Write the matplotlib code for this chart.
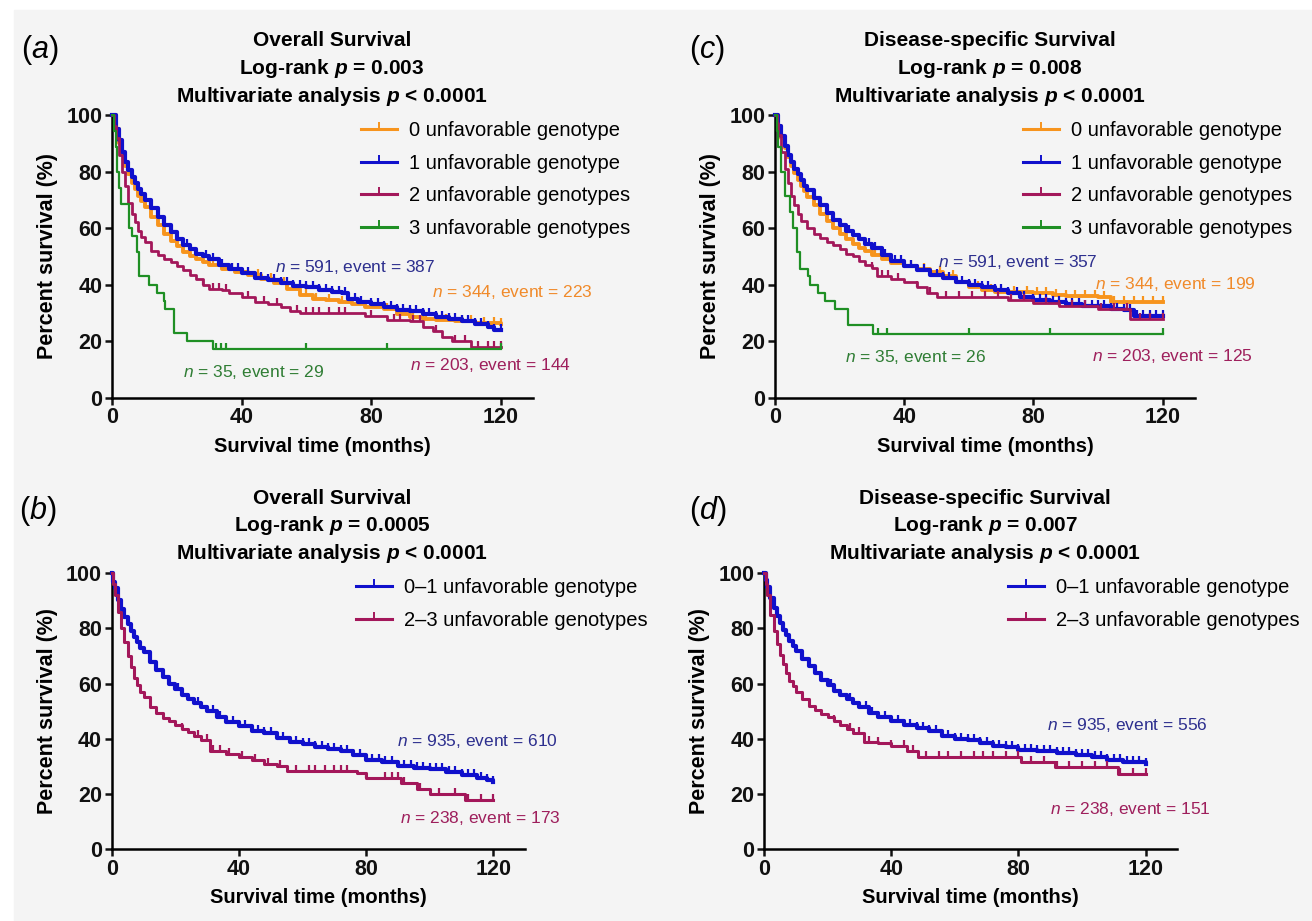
import numpy as np
import matplotlib
matplotlib.use('Agg')
import matplotlib.pyplot as plt
from matplotlib.path import Path
from matplotlib.patches import Rectangle

plt.rcParams['font.family'] = ['Liberation Sans', 'DejaVu Sans']
plt.rcParams['mathtext.fontset'] = 'custom'
plt.rcParams['mathtext.rm'] = 'Liberation Sans'
plt.rcParams['mathtext.it'] = 'Liberation Sans:italic'
plt.rcParams['mathtext.bf'] = 'Liberation Sans:bold'
plt.rcParams['mathtext.bfit'] = 'Liberation Sans:italic:bold'

W, H = 1312, 921

# ---- (a) overall survival, 0/1/2/3 unfavorable genotypes ----
A0_T = [0, 1, 2, 3, 4, 5, 6, 7, 8, 9, 10, 12, 14, 16, 18, 20, 22, 24, 26, 28, 30, 34, 38, 42, 46, 50,
        54, 58, 62, 66, 70, 74, 78, 84, 88, 92, 96, 100, 106, 112, 120]
A0_S = [100, 95, 90, 86, 82, 79, 76, 74, 71.5, 69.5, 67.5, 64, 61, 58, 55.5, 53.5, 51.5, 50, 49, 48, 47,
        45.5, 44.5, 43.5, 42, 40.5, 38.5, 36.5, 35, 34.5, 34, 33, 32, 31.5, 29.5, 28.5, 28, 27.5, 27, 26.5, 26]
A0_C = [31, 37, 45, 49, 53, 60, 63, 67, 71, 76, 85, 89, 93, 97, 103, 108, 111, 115, 118, 120]

A1_T = [0, 1, 2, 3, 4, 5, 6, 7, 8, 9, 10, 12, 14, 16, 18, 20, 22, 24, 26, 28, 30, 33, 36, 40, 44, 48,
        52, 56, 60, 64, 68, 71, 73, 76, 80, 84, 88, 92, 96, 100, 104, 108, 112, 116, 118, 120]
A1_S = [100, 95, 91, 87, 83.5, 80.5, 78, 76, 74, 72, 70, 67, 64, 61, 58.5, 56, 54, 52.5, 51, 50, 49, 47,
        45.5, 44, 42.5, 41.5, 40.5, 39.5, 39, 38, 37.5, 37, 35, 34, 33, 32, 31, 30.5, 29.5, 28.5, 28, 27,
        26, 25, 24, 24]
A1_C = [20, 23, 26, 29, 31, 34, 37, 39, 42, 44, 46, 48, 50, 52, 54, 56, 58, 60, 62, 64, 66, 68, 70, 72,
        75, 77, 80, 82, 84, 86, 88, 90, 92, 94, 96, 98, 100, 102, 104, 106, 108, 110, 112, 114, 116, 118, 120]

A2_T = [0, 0.5, 1, 2, 3, 4, 5, 6, 7, 8, 9, 10, 12, 14, 16, 18, 20, 22, 24, 26, 28, 30, 34, 36, 40, 44,
        48, 52, 55, 58, 78, 85, 92, 96, 99, 102, 105, 111, 120]
A2_S = [100, 96, 92, 86, 80, 75, 69, 65, 62, 59, 57, 55, 52, 50.5, 49, 48, 46.5, 45, 43.5, 42, 40, 38.5,
        38, 37, 35.5, 34, 33, 32, 30.5, 30, 29, 27.5, 27, 25, 23.5, 21.5, 20, 18, 18]
A2_C = [28, 31, 33, 35, 42, 47, 51, 57, 60, 62, 64, 67, 70, 72, 80, 87, 89, 93, 95, 100, 106, 109, 113,
        116, 118, 120]

A3_T = [0, 0.5, 1, 1.5, 2, 2.7, 5.1, 6.1, 7.6, 8.1, 11.2, 13.8, 15.9, 16.4, 19.0, 23.2, 31.0, 120]
A3_S = [100, 94.3, 88.6, 80, 74.3, 68.6, 60, 57.1, 51.4, 42.9, 40, 37.1, 34.3, 31.4, 22.9, 20, 17.1, 17.1]
A3_C = [32, 33.5, 35, 60, 85, 120]

# ---- (c) disease-specific survival, 0/1/2/3 unfavorable genotypes ----
C0_T = [0, 1, 2, 3, 4, 5, 6, 7, 8, 9, 10, 12, 14, 16, 18, 20, 22, 24, 26, 28, 30, 33, 36, 40, 44, 48,
        52, 56, 60, 64, 68, 72, 80, 86, 90, 100, 104, 120]
C0_S = [100, 96, 92, 88.5, 85, 82, 79.5, 77, 75, 73, 71, 68, 65, 62.5, 60, 58, 56, 54.5, 53, 52, 50.5,
        49, 47.5, 46.5, 45.5, 44.5, 43, 41, 39, 38, 37.5, 37.5, 37, 36.5, 36, 35.5, 34, 34]
C0_C = [31, 35, 42, 46, 51, 55, 63, 67, 70, 74, 78, 81, 84, 87, 90, 93, 96, 99, 102, 105, 108, 111, 114,
        117, 120]

C1_T = [0, 1, 2, 3, 4, 5, 6, 7, 8, 9, 10, 12, 14, 16, 18, 20, 22, 24, 26, 28, 30, 33, 36, 40, 44, 48,
        52, 56, 60, 64, 68, 72, 76, 80, 85, 90, 95, 100, 104, 108, 111, 120]
C1_S = [100, 96, 92.5, 89, 86, 83.5, 81, 79, 77, 75, 73.5, 70.5, 68, 65.5, 63, 61, 59, 57.5, 56, 54.5,
        53, 50.5, 48.5, 46.5, 45, 43.5, 42.5, 41, 40, 39, 38, 37, 35.5, 34.5, 34, 33, 32.5, 32.5, 31.5, 31,
        29, 29]
C1_C = [20, 23, 26, 29, 31, 34, 37, 39, 42, 44, 46, 48, 50, 52, 54, 56, 58, 60, 62, 64, 66, 68, 70, 72,
        75, 77, 80, 82, 84, 86, 88, 90, 92, 94, 96, 98, 100, 102, 104, 106, 108, 110, 112, 114, 116, 118, 120]

C2_T = [0, 0.5, 1, 2, 3, 4, 5, 6, 7, 8, 10, 12, 14, 16, 18, 20, 22, 24, 26, 28, 30, 31.5, 36, 40, 44, 47,
        50, 72, 80, 88, 100, 110, 120]
C2_S = [100, 97, 93, 87, 81, 76, 71.5, 68, 65, 62.5, 60, 58, 56.5, 55, 54, 52.5, 51, 50, 48.5, 47, 46, 43,
        42, 41, 39, 37, 35.5, 34.5, 33.5, 32.5, 31.5, 28, 28]
C2_C = [30, 33, 35, 38, 44, 48, 53, 57, 61, 65, 69, 73, 77, 84, 88, 92, 96, 101, 105, 109, 113, 116, 120]

C3_T = [0, 0.5, 1, 2, 3.1, 4.6, 5.7, 6.7, 7.7, 10.3, 10.8, 13.4, 15.5, 18.6, 22.7, 30.4, 120]
C3_S = [100, 94.3, 88.6, 80, 71.4, 65.7, 60, 51.4, 45.7, 42.9, 40, 37.1, 34.3, 31.4, 25.7, 22.4, 22.4]
C3_C = [32, 34.6, 60, 85, 120]

# ---- (b) overall survival, 0-1 vs 2-3 ----
B0_T = [0, 0.5, 1, 2, 3, 4, 5, 6, 7, 8, 9, 10, 12, 14, 16, 18, 20, 22, 24, 26, 28, 30, 33, 36, 40, 44,
        48, 52, 56, 60, 64, 68, 72, 76, 80, 85, 90, 95, 100, 105, 110, 115, 118, 120]
B0_S = [100, 97, 94.5, 90.5, 87, 84, 81.5, 79, 77, 75, 73, 71.5, 68, 65, 62.5, 60, 58, 56, 54.5, 53, 51.5,
        50, 48, 46, 44.5, 43, 42, 40.5, 39, 38, 37, 36.5, 35.5, 34, 32.5, 31.5, 30, 29.5, 29, 28, 27, 26,
        25, 24.5]
B0_C = [18, 21, 24, 27, 30, 32, 34, 36, 38, 40, 42, 44, 46, 48, 50, 52, 54, 56, 58, 60, 62, 64, 66, 68,
        70, 72, 74, 76, 78, 80, 82, 84, 86, 88, 90, 92, 94, 96, 98, 100, 102, 104, 106, 108, 110, 112, 114,
        116, 118, 120]

B1_T = [0, 0.5, 1, 2, 3, 4, 5, 6, 7, 8, 9, 10, 12, 14, 16, 18, 20, 22, 24, 26, 28, 31, 36, 40, 44, 48,
        52, 55, 77, 80, 91, 96, 100, 111, 120]
B1_S = [100, 96, 92, 86, 80, 75, 70, 66, 62, 59.5, 57, 55, 51.5, 49.5, 47.5, 46.5, 45, 43.5, 42.5, 41,
        39.5, 35.5, 34.5, 33.5, 32.5, 31, 30, 28.5, 27.5, 26, 24, 22, 20, 18, 18]
B1_C = [22, 27, 30, 32, 34, 37, 41, 45, 49, 53, 58, 62, 64, 67, 70, 72, 74, 80, 86, 88, 90, 92, 97, 103,
        108, 112, 116, 120]

# ---- (d) disease-specific survival, 0-1 vs 2-3 ----
D0_T = [0, 0.5, 1, 2, 3, 4, 5, 6, 7, 8, 9, 10, 12, 14, 16, 18, 20, 22, 24, 26, 28, 30, 33, 36, 40, 44,
        48, 52, 56, 60, 64, 68, 72, 76, 80, 86, 92, 98, 103, 108, 113, 120]
D0_S = [100, 97.5, 95, 91, 87.5, 84.5, 82, 79.5, 77.5, 75.5, 73.5, 72, 69, 66.5, 64, 61.5, 59.5, 57.5,
        56, 54.5, 53, 51.5, 49.5, 48, 46.5, 45, 44, 43, 41, 40, 39.5, 38.5, 37.5, 37, 36, 35.5, 35, 34,
        33.5, 32.5, 31.5, 31]
D0_C = [18, 21, 24, 27, 30, 32, 34, 36, 38, 40, 42, 44, 46, 48, 50, 52, 54, 56, 58, 60, 62, 64, 66, 68,
        70, 72, 74, 76, 78, 80, 82, 84, 86, 88, 90, 92, 94, 96, 98, 100, 102, 104, 106, 108, 110, 112, 114,
        116, 118, 120]

D1_T = [0, 0.5, 1, 2, 3, 4, 5, 6, 7, 8, 9, 10, 12, 14, 16, 18, 20, 22, 24, 26, 28, 31.5, 36, 40, 45,
        48.4, 80.9, 91.4, 111.3, 120]
D1_S = [100, 96, 92, 85, 79, 74.5, 70.5, 67, 64, 61, 59, 57, 54.5, 52, 50.5, 49, 48, 46.5, 45, 43.5, 42,
        39, 38.5, 37.5, 35.5, 33.5, 31.7, 29.9, 27.2, 27.2]
D1_C = [22, 27, 30, 33, 36, 40, 44, 47, 51, 55, 58, 62, 66, 69, 72, 76, 80, 84, 88, 92, 96, 100, 104,
        108, 112, 116, 120]

LABELS4 = ['0 unfavorable genotype', '1 unfavorable genotype', '2 unfavorable genotypes',
           '3 unfavorable genotypes']
LABELS2 = ['0\u20131 unfavorable genotype', '2\u20133 unfavorable genotypes']

ORANGE = '#f7941d'
BLUE = '#1010cc'
CRIMSON = '#a3175a'
GREEN = '#1f8f24'
T_ORANGE = '#f08a2a'
T_BLUE = '#2d2f8e'
T_CRIMSON = '#9e1f5c'
T_GREEN = '#2f7d34'

TICK = Path([(0, 0), (0, 1)], [Path.MOVETO, Path.LINETO])


def px(x, y):
    return x / W, 1 - y / H


def km(ax, t, s, cens, color, lw, label, z):
    t = np.asarray(t, float)
    s = np.asarray(s, float)
    cens = np.asarray(cens, float)
    ax.plot(t, s, drawstyle='steps-post', color=color, lw=lw, clip_on=False, zorder=z)
    idx = np.searchsorted(t, cens, side='right') - 1
    ax.plot(cens, s[idx], ls='none', marker=TICK, ms=9, mew=1.6, color=color, clip_on=False, zorder=z)
    ax.plot([], [], color=color, lw=2.2, marker=TICK, ms=10, mew=1.4, label=label)


def style(ax):
    ax.set_xlim(0, 130)
    ax.set_ylim(0, 100)
    ax.set_xticks([0, 40, 80, 120])
    ax.set_yticks(range(0, 101, 20))
    ax.set_facecolor('none')
    ax.spines[['top', 'right']].set_visible(False)
    ax.spines[['left', 'bottom']].set_linewidth(1.8)
    ax.tick_params(width=1.8, length=5, labelsize=15.5, pad=2, colors='#111111')
    for lab in ax.get_xticklabels() + ax.get_yticklabels():
        lab.set_fontweight('bold')
    ax.set_xlabel('Survival time (months)', fontsize=14.5, fontweight='bold', labelpad=6)
    ax.set_ylabel('Percent survival (%)', fontsize=15.5, fontweight='bold', labelpad=6)


def titles(fig, x, y0, head, logrank):
    lines = [head, r'Log-rank $\mathbfit{p}$ = ' + logrank, r'Multivariate analysis $\mathbfit{p}$ < 0.0001']
    for i, line in enumerate(lines):
        fig.text(*px(x, y0 + i * 27.5), line, ha='center', va='center', fontsize=15, fontweight='bold')


fig = plt.figure(figsize=(W / 100, H / 100), dpi=100, facecolor='white')
fig.add_artist(Rectangle(px(14, H), 1, 1 - 10 / H, transform=fig.transFigure, color='#f4f4f4', zorder=-10))

ax_a = fig.add_axes([112.3 / W, 1 - 397.7 / H, 420.6 / W, 282.7 / H])
ax_c = fig.add_axes([775 / W, 1 - 397.7 / H, 419.9 / W, 282.7 / H])
ax_b = fig.add_axes([111.7 / W, 1 - 849.3 / H, 413.4 / W, 276 / H])
ax_d = fig.add_axes([764 / W, 1 - 849.3 / H, 413.4 / W, 276 / H])

# (a)
km(ax_a, A0_T, A0_S, A0_C, ORANGE, 2.8, LABELS4[0], 3)
km(ax_a, A1_T, A1_S, A1_C, BLUE, 3.0, LABELS4[1], 4)
km(ax_a, A2_T, A2_S, A2_C, CRIMSON, 2.0, LABELS4[2], 5)
km(ax_a, A3_T, A3_S, A3_C, GREEN, 1.6, LABELS4[3], 6)
ax_a.text(50.3, 46.2, r'$\mathit{n}$ = 591, event = 387', color=T_BLUE, fontsize=12.5, va='center')
ax_a.text(98.9, 37.4, r'$\mathit{n}$ = 344, event = 223', color=T_ORANGE, fontsize=12.5, va='center')
ax_a.text(21.8, 9.1, r'$\mathit{n}$ = 35, event = 29', color=T_GREEN, fontsize=12.5, va='center')
ax_a.text(92.0, 11.7, r'$\mathit{n}$ = 203, event = 144', color=T_CRIMSON, fontsize=12.5, va='center')

# (c)
km(ax_c, C0_T, C0_S, C0_C, ORANGE, 2.8, LABELS4[0], 3)
km(ax_c, C1_T, C1_S, C1_C, BLUE, 3.0, LABELS4[1], 4)
km(ax_c, C2_T, C2_S, C2_C, CRIMSON, 2.0, LABELS4[2], 5)
km(ax_c, C3_T, C3_S, C3_C, GREEN, 1.6, LABELS4[3], 6)
ax_c.text(50.5, 48.0, r'$\mathit{n}$ = 591, event = 357', color=T_BLUE, fontsize=12.5, va='center')
ax_c.text(99.0, 40.2, r'$\mathit{n}$ = 344, event = 199', color=T_ORANGE, fontsize=12.5, va='center')
ax_c.text(21.7, 14.5, r'$\mathit{n}$ = 35, event = 26', color=T_GREEN, fontsize=12.5, va='center')
ax_c.text(98.1, 14.8, r'$\mathit{n}$ = 203, event = 125', color=T_CRIMSON, fontsize=12.5, va='center')

# (b)
km(ax_b, B0_T, B0_S, B0_C, BLUE, 3.0, LABELS2[0], 4)
km(ax_b, B1_T, B1_S, B1_C, CRIMSON, 2.2, LABELS2[1], 5)
ax_b.text(89.7, 39.2, r'$\mathit{n}$ = 935, event = 610', color=T_BLUE, fontsize=12.5, va='center')
ax_b.text(90.7, 11.2, r'$\mathit{n}$ = 238, event = 173', color=T_CRIMSON, fontsize=12.5, va='center')

# (d)
km(ax_d, D0_T, D0_S, D0_C, BLUE, 3.0, LABELS2[0], 4)
km(ax_d, D1_T, D1_S, D1_C, CRIMSON, 2.2, LABELS2[1], 5)
ax_d.text(89.0, 45.0, r'$\mathit{n}$ = 935, event = 556', color=T_BLUE, fontsize=12.5, va='center')
ax_d.text(90.0, 14.5, r'$\mathit{n}$ = 238, event = 151', color=T_CRIMSON, fontsize=12.5, va='center')

for ax in (ax_a, ax_b, ax_c, ax_d):
    style(ax)

legend_at = {ax_a: (361, 121), ax_c: (1023, 121), ax_b: (356, 578), ax_d: (1008, 578)}
for ax, (lx, ly) in legend_at.items():
    ax.legend(loc='upper left', bbox_to_anchor=px(lx, ly), bbox_transform=fig.transFigure,
              frameon=False, fontsize=14.5, handlelength=1.8, handletextpad=0.6, labelspacing=0.68,
              borderaxespad=0, borderpad=0, numpoints=1)

titles(fig, 332, 41, 'Overall Survival', '0.003')
titles(fig, 990, 41, 'Disease-specific Survival', '0.008')
titles(fig, 332, 498, 'Overall Survival', '0.0005')
titles(fig, 985, 498, 'Disease-specific Survival', '0.007')

for letter, (lx, ly) in zip('acbd', [(21, 50), (689, 50), (19, 511), (689, 511)]):
    fig.text(*px(lx, ly), '($\\mathit{' + letter + '}$)', fontsize=22, va='center', ha='left')

fig.savefig('out.png', dpi=100, facecolor=fig.get_facecolor())
